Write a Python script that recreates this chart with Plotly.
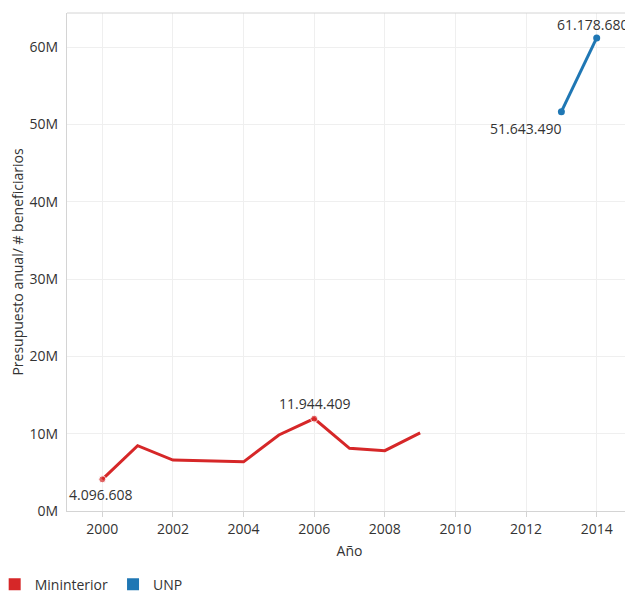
import plotly.graph_objects as go

# Data
years_min = [2000, 2001, 2002, 2003, 2004, 2005, 2006, 2007, 2008, 2009]
vals_min = [4096608, 8440000, 6580000, 6500000, 6360000, 9830000, 11944409, 8100000, 7800000, 10100000]
years_unp = [2013, 2014]
vals_unp = [51643490, 61178680]

series_names = ["Mininterior", "UNP"]
colors = ["#d62728", "#1f77b4"]

y_tickvals = [0, 10e6, 20e6, 30e6, 40e6, 50e6, 60e6]
y_ticktext = ["0M", "10M", "20M", "30M", "40M", "50M", "60M"]
x_tickvals = [2000, 2002, 2004, 2006, 2008, 2010, 2012, 2014]

# labelled points: year -> (xanchor, yanchor, xshift, yshift)
lab_min = {2000: ("center", "top", -2, -4), 2006: ("center", "bottom", 0, 4)}
lab_unp = {2013: ("right", "top", 2, -5), 2014: ("center", "bottom", -4, 2)}

fmt = lambda v: f"{v:,.0f}".replace(",", ".")

fig = go.Figure()

fig.add_trace(go.Scatter(
    x=years_min, y=vals_min, mode="lines+markers",
    line=dict(color=colors[0], width=3),
    marker=dict(color=colors[0], size=[7 if y in lab_min else 0 for y in years_min]),
    showlegend=False, hoverinfo="x+y"))

fig.add_trace(go.Scatter(
    x=years_unp, y=vals_unp, mode="lines+markers",
    line=dict(color=colors[1], width=3),
    marker=dict(color=colors[1], size=7),
    showlegend=False, hoverinfo="x+y"))

for name, c in zip(series_names, colors):
    fig.add_trace(go.Scatter(x=[None], y=[None], mode="markers", name=name,
                             marker=dict(symbol="square", size=14, color=c)))

annotations = []
for years, vals, labs in [(years_min, vals_min, lab_min), (years_unp, vals_unp, lab_unp)]:
    for y, v in zip(years, vals):
        if y in labs:
            xa, ya, xs, ys = labs[y]
            annotations.append(dict(x=y, y=v, text=fmt(v), showarrow=False,
                                    xanchor=xa, yanchor=ya, xshift=xs, yshift=ys,
                                    font=dict(size=14, color="#333")))

# page body has an 8px margin, so the figure is sized to end at the window edge
fig.update_layout(
    width=625, height=585,
    margin=dict(l=59, r=1, t=5, b=82, autoexpand=False),
    paper_bgcolor="white", plot_bgcolor="white",
    font=dict(family="Open Sans, Noto Sans, sans-serif", size=14, color="#333"),
    legend=dict(orientation="h", xref="paper", yref="paper", x=-0.128, y=-0.148,
                xanchor="left", yanchor="middle", font=dict(size=14),
                itemsizing="constant", itemwidth=30),
    xaxis=dict(range=[1999, 2015], tickvals=x_tickvals, showgrid=True, gridcolor="#efefef",
               showline=True, linecolor="#d4d4d4", ticks="outside", ticklen=5, tickcolor="#d4d4d4",
               zeroline=False, automargin=True,
               title=dict(text="Año", font=dict(size=14), standoff=9)),
    yaxis=dict(range=[0, 64.4e6], tickvals=y_tickvals, ticktext=y_ticktext, showgrid=True,
               gridcolor="#efefef", showline=True, linecolor="#d4d4d4", zeroline=False,
               ticks="", automargin=True, ticklabelstandoff=5,
               title=dict(text="Presupuesto anual/ # beneficiarios", font=dict(size=14), standoff=13)),
    shapes=[dict(type="line", xref="paper", yref="paper", x0=0, x1=1, y0=1, y1=1,
                 line=dict(color="#d4d4d4", width=1))],
    annotations=annotations,
)

fig.write_html("out.html")
